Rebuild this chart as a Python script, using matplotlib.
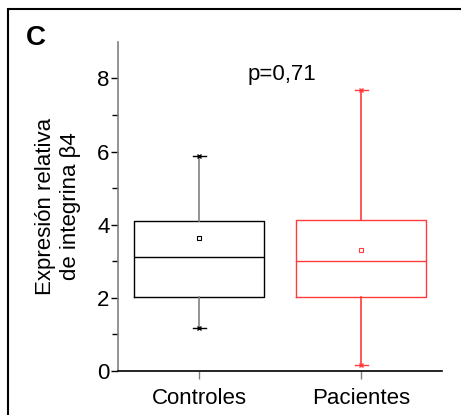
# %% load library
import matplotlib
matplotlib.use("Agg")
import matplotlib.pyplot as plt
from matplotlib.patches import Rectangle

plt.rcParams['font.family'] = ['Liberation Sans Narrow', 'Liberation Sans', 'DejaVu Sans']

# %% data
groups = ["Controles", "Pacientes"]
whisker_low = [1.18, 0.17]
q1 = [2.02, 2.02]
medians = [3.12, 3.01]
q3 = [4.10, 4.12]
whisker_high = [5.87, 7.69]
means = [3.63, 3.31]
p_text = "p=0,71"

# %% style
BOX_COLORS = ["black", "#ff3b3b"]
WHISK_COLORS = ["#808080", "#ff3b3b"]
FS = 16

fig = plt.figure(figsize=(4.61, 4.15), dpi=100)
ax = fig.add_axes([0.256, 0.106, 0.703, 0.793])

stats = []
for i, g in enumerate(groups):
    stats.append(dict(label=g, whislo=whisker_low[i], q1=q1[i], med=medians[i],
                      q3=q3[i], whishi=whisker_high[i], mean=means[i], fliers=[]))

positions = list(range(1, len(groups) + 1))
for i, s in enumerate(stats):
    ax.bxp([s], positions=[positions[i]], widths=0.8, showmeans=True,
           showcaps=True, capwidths=0.08,
           boxprops=dict(color=BOX_COLORS[i], linewidth=1),
           medianprops=dict(color=BOX_COLORS[i], linewidth=1),
           whiskerprops=dict(color=WHISK_COLORS[i], linewidth=1.2),
           capprops=dict(color=BOX_COLORS[i], linewidth=1),
           meanprops=dict(marker='s', markersize=3, markerfacecolor='white',
                          markeredgecolor=BOX_COLORS[i], markeredgewidth=0.8))
    # cross markers at whisker ends
    ax.plot([positions[i]] * 2, [whisker_low[i], whisker_high[i]], linestyle='none',
            marker='x', markersize=3.5, color=BOX_COLORS[i], markeredgewidth=1)

ax.set_xlim(0.5, 2.5)
ax.set_ylim(0, 9)
ax.set_yticks([0, 2, 4, 6, 8])
ax.set_yticks([1, 3, 5, 7], minor=True)
ax.set_xticks(positions)
ax.set_xticklabels(groups, fontsize=FS)
ax.tick_params(axis='y', labelsize=FS, length=5, width=1, direction='out', pad=1)
ax.tick_params(axis='y', which='minor', length=4, width=1)
ax.tick_params(axis='x', length=6, width=1, color='#808080', pad=6)

for side in ['top', 'right']:
    ax.spines[side].set_visible(False)
ax.spines['left'].set_color('#808080')
ax.spines['left'].set_linewidth(1.2)
ax.spines['bottom'].set_linewidth(1.2)
ax.spines['bottom'].set_color('black')

ax.set_ylabel("Expresión relativa\nde integrina β4", fontsize=FS, labelpad=12,
              linespacing=1.2)

ax.text(1.51, 8.1, p_text, fontsize=FS, ha='center', va='center')

fig.text(36 / 461, 1 - 38 / 415, "C", fontsize=20, fontweight='bold',
         ha='center', va='center', family=['Liberation Sans', 'DejaVu Sans'])

# figure frame (open on right/bottom as in crop)
fig.add_artist(Rectangle((8 / 461, -0.1), 1.2, 1 - 9.5 / 415 + 0.1,
                         transform=fig.transFigure, fill=False,
                         edgecolor='black', linewidth=1.5))

fig.savefig("out.png", dpi=100)
